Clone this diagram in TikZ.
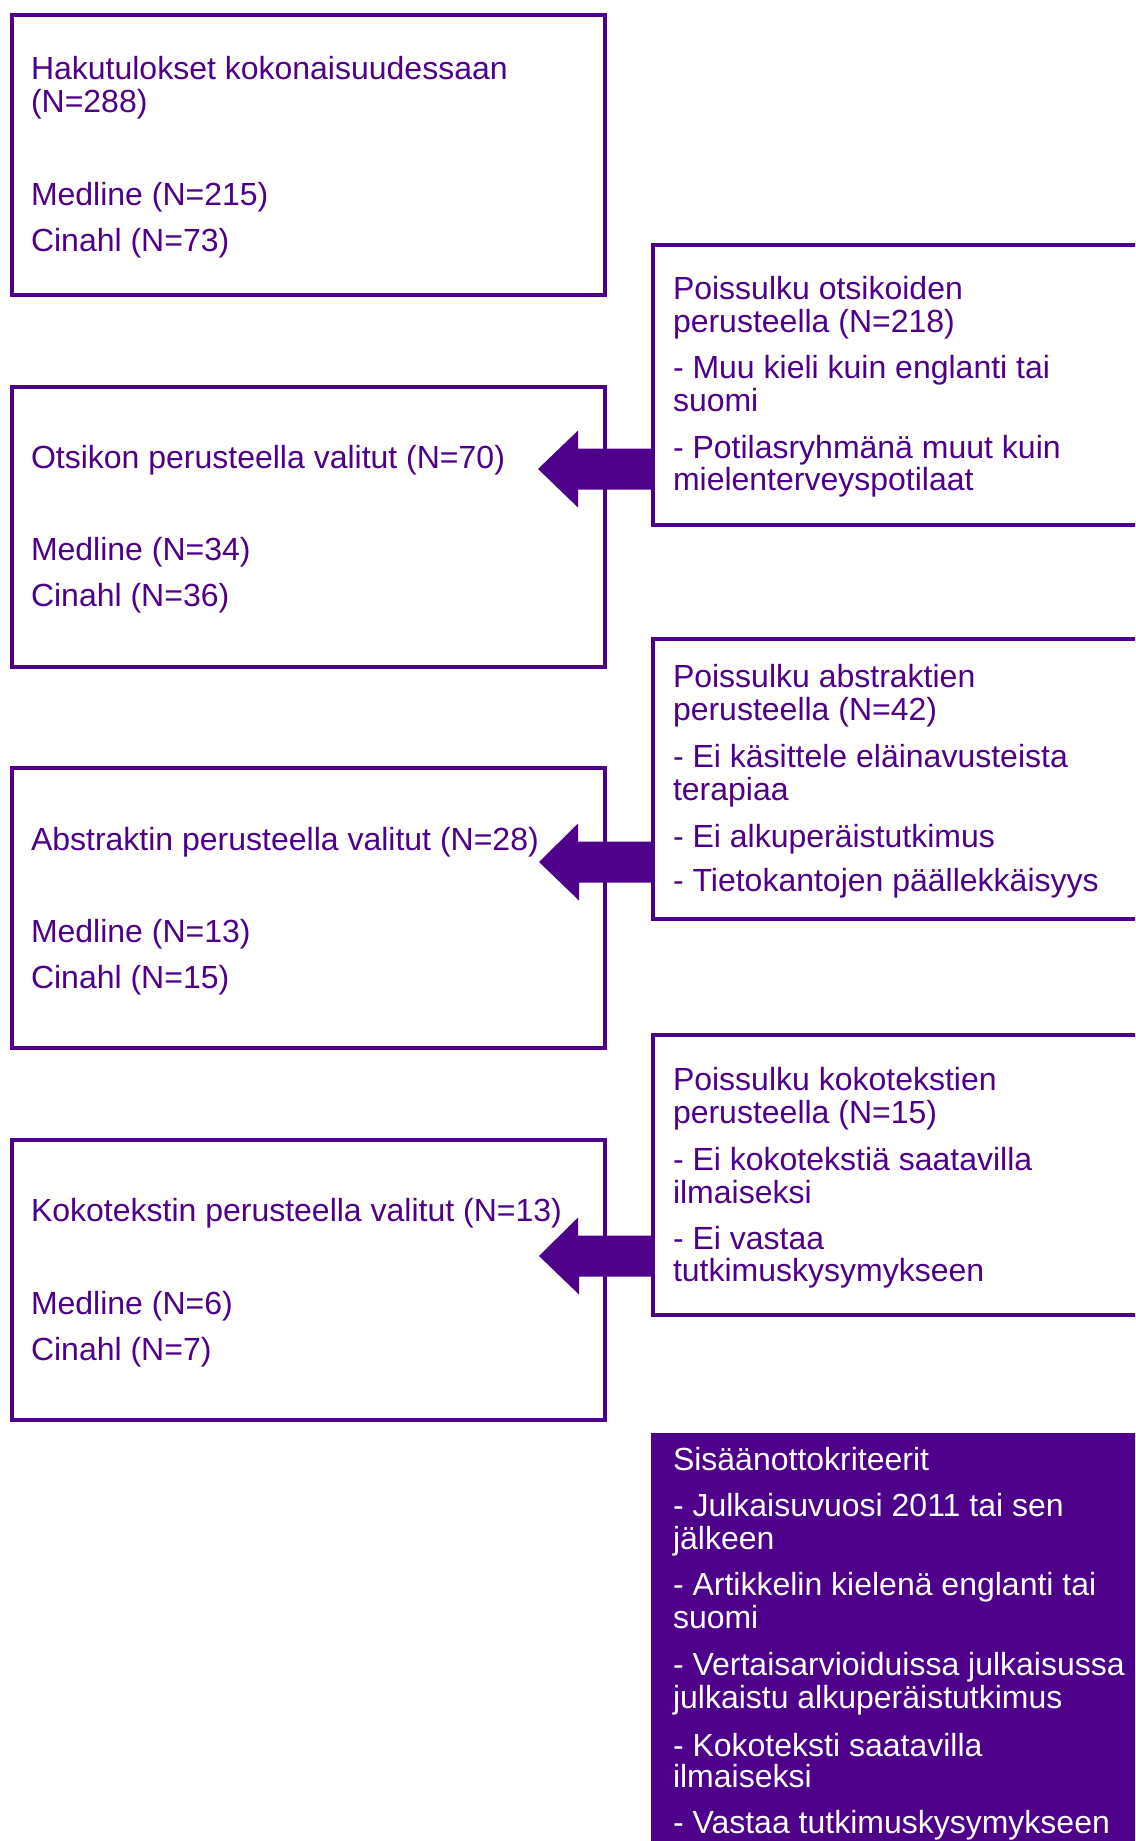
\documentclass[tikz,border=0pt]{standalone}
\usepackage{fontspec}
\setmainfont{Liberation Sans}
\definecolor{pp}{RGB}{78,0,138}
\begin{document}
\begin{tikzpicture}[x=1pt,y=-1pt,
  box/.style={draw=pp, line width=4pt, anchor=north west, inner sep=0pt, outer sep=0pt, minimum width=593pt, minimum height=280pt},
  rbox/.style={box, minimum width=520pt},
  fbox/.style={fill=pp, draw=pp, line width=4pt, anchor=north west, inner sep=0pt, outer sep=0pt, minimum width=520pt, minimum height=500pt},
  txt/.style={anchor=base west, inner sep=0pt, outer sep=0pt, font=\fontsize{32}{32}\selectfont, text=pp},
  wtxt/.style={txt, text=white},
  arr/.style={fill=pp}]
\useasboundingbox (0,0) rectangle (1135,1841);
\clip (0,0) rectangle (1135,1841);
% left boxes
\node[box] (b1) at (12,15) {};
\node[box] (b2) at (12,387) {};
\node[box] (b3) at (12,768) {};
\node[box] (b4) at (12,1140) {};
% right boxes
\node[rbox] (r1) at (653,245) {};
\node[rbox] (r2) at (653,639) {};
\node[rbox] (r3) at (653,1035) {};
\node[fbox] (r4) at (653,1435) {};
% texts left
\node[txt] (t1a) at (31,80) {Hakutulokset kokonaisuudessaan};
\node[txt] (t1b) at (31,113) {(N=288)};
\node[txt] (t1c) at (31,205) {Medline (N=215)};
\node[txt] (t1d) at (31,251) {Cinahl (N=73)};
\node[txt] (t2a) at (31,468) {Otsikon perusteella valitut (N=70)};
\node[txt] (t2b) at (31,560) {Medline (N=34)};
\node[txt] (t2c) at (31,606) {Cinahl (N=36)};
\node[txt] (t3a) at (31,850) {Abstraktin perusteella valitut (N=28)};
\node[txt] (t3b) at (31,942) {Medline (N=13)};
\node[txt] (t3c) at (31,988) {Cinahl (N=15)};
\node[txt] (t4a) at (31,1221) {Kokotekstin perusteella valitut (N=13)};
\node[txt] (t4b) at (31,1314) {Medline (N=6)};
\node[txt] (t4c) at (31,1360) {Cinahl (N=7)};
% texts right
\node[txt] (u1a) at (673,299) {Poissulku otsikoiden};
\node[txt] (u1b) at (673,332) {perusteella (N=218)};
\node[txt] (u1c) at (673,378) {- Muu kieli kuin englanti tai};
\node[txt] (u1d) at (673,411) {suomi};
\node[txt] (u1e) at (673,458) {- Potilasryhmänä muut kuin};
\node[txt] (u1f) at (673,490) {mielenterveyspotilaat};
\node[txt] (u2a) at (673,687) {Poissulku abstraktien};
\node[txt] (u2b) at (673,720) {perusteella (N=42)};
\node[txt] (u2c) at (673,767) {- Ei käsittele eläinavusteista};
\node[txt] (u2d) at (673,800) {terapiaa};
\node[txt] (u2e) at (673,847) {- Ei alkuperäistutkimus};
\node[txt] (u2f) at (673,891) {- Tietokantojen päällekkäisyys};
\node[txt] (u3a) at (673,1090) {Poissulku kokotekstien};
\node[txt] (u3b) at (673,1123) {perusteella (N=15)};
\node[txt] (u3c) at (673,1170) {- Ei kokotekstiä saatavilla};
\node[txt] (u3d) at (673,1203) {ilmaiseksi};
\node[txt] (u3e) at (673,1249) {- Ei vastaa};
\node[txt] (u3f) at (673,1281) {tutkimuskysymykseen};
\node[wtxt] (u4a) at (673,1470) {Sisäänottokriteerit};
\node[wtxt] (u4b) at (673,1516) {- Julkaisuvuosi 2011 tai sen};
\node[wtxt] (u4c) at (673,1549) {jälkeen};
\node[wtxt] (u4d) at (673,1595) {- Artikkelin kielenä englanti tai};
\node[wtxt] (u4e) at (673,1628) {suomi};
\node[wtxt] (u4f) at (673,1675) {- Vertaisarvioiduissa julkaisussa};
\node[wtxt] (u4g) at (673,1708) {julkaistu alkuperäistutkimus};
\node[wtxt] (u4h) at (673,1756) {- Kokoteksti saatavilla};
\node[wtxt] (u4i) at (673,1787) {ilmaiseksi};
\node[wtxt] (u4j) at (673,1833) {- Vastaa tutkimuskysymykseen};
% arrows
\coordinate (a1) at (538,469);
\coordinate (a2) at (539,862);
\coordinate (a3) at (539,1256);
\foreach \r/\a in {r1/a1, r2/a2, r3/a3}{
  \fill[arr] (\r.west |- \a) ++(0,-20.5) -- ++(-75,0) -- ++(0,-18) -- (\a)
    -- ++(40,38.5) -- ++(0,-18) -- ++(75,0) -- cycle;
}
\end{tikzpicture}
\end{document}
